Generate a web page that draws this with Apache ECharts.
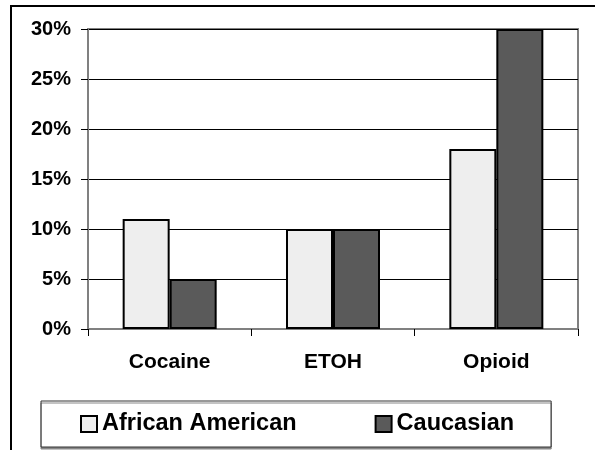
<!DOCTYPE html>
<html>
<head>
<meta charset="utf-8">
<script src="https://cdn.jsdelivr.net/npm/echarts@6/dist/echarts.min.js"></script>
<style>
html,body{margin:0;padding:0;background:#fff;}
#frame{position:absolute;left:10px;top:5px;width:700px;height:600px;border-left:2px solid #000;border-top:2px solid #000;}
#chart{position:absolute;left:0;top:0;width:595px;height:450px;}
</style>
</head>
<body>
<div id="frame"></div>
<div id="chart"></div>
<script>
const categories = ['Cocaine', 'ETOH', 'Opioid'];
const seriesNames = ['African American', 'Caucasian'];
const africanAmerican = [11, 10, 18];
const caucasian = [5, 10, 30];
const yTicks = [0, 5, 10, 15, 20, 25, 30];

const font = '"Liberation Sans", Arial, sans-serif';
const chart = echarts.init(document.getElementById('chart'), null, {renderer: 'canvas'});
chart.setOption({
  backgroundColor: 'transparent',
  animation: false,
  grid: {
    left: 88, top: 29, right: 17, bottom: 121,
    show: true, borderColor: '#808080', borderWidth: 2
  },
  legend: {
    data: seriesNames,
    left: 41, top: 401,
    padding: [11, 37, 11, 39],
    itemGap: 78,
    itemWidth: 16, itemHeight: 16,
    icon: 'rect',
    borderColor: '#333', borderWidth: 1,
    backgroundColor: '#fff',
    shadowColor: '#888', shadowOffsetX: 0, shadowOffsetY: 2, shadowBlur: 0,
    textStyle: {fontFamily: font, fontWeight: 'bold', fontSize: 23.5, color: '#000'}
  },
  xAxis: {
    type: 'category',
    data: categories,
    boundaryGap: true,
    axisLine: {lineStyle: {color: '#808080', width: 2}},
    axisTick: {show: true, length: 7, lineStyle: {color: '#000', width: 1}},
    axisLabel: {fontFamily: font, fontWeight: 'bold', fontSize: 21, color: '#000', margin: 23}
  },
  yAxis: {
    type: 'value',
    min: yTicks[0], max: yTicks[yTicks.length - 1], interval: yTicks[1] - yTicks[0],
    axisLine: {show: true, lineStyle: {color: '#808080', width: 2}},
    axisTick: {show: true, length: 7, lineStyle: {color: '#000', width: 1}},
    splitLine: {show: true, lineStyle: {color: '#000', width: 1}},
    axisLabel: {formatter: '{value}%', fontFamily: font, fontWeight: 'bold', fontSize: 20, color: '#000', margin: 17}
  },
  series: [
    {
      name: seriesNames[0], type: 'bar', data: africanAmerican,
      barWidth: 47, barGap: '0%',
      itemStyle: {color: '#eeeeee', borderColor: '#000', borderWidth: 2}
    },
    {
      name: seriesNames[1], type: 'bar', data: caucasian,
      barWidth: 47, barGap: '0%',
      itemStyle: {color: '#5a5a5a', borderColor: '#000', borderWidth: 2}
    }
  ]
});
</script>
</body>
</html>
